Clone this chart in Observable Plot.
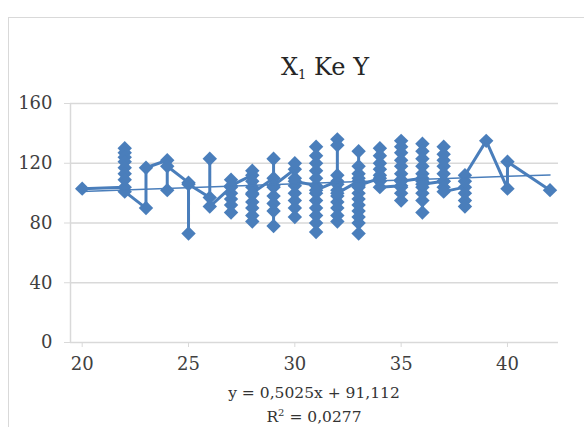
<!DOCTYPE html>
<html>
<head>
<meta charset="utf-8">
<script src="https://cdn.jsdelivr.net/npm/d3@7"></script>
<script src="https://cdn.jsdelivr.net/npm/@observablehq/plot@0.6"></script>
<style>
  html, body { margin: 0; padding: 0; background: #fff; overflow: hidden; }
  #wrap { position: relative; width: 584px; height: 427px; background: #fff; font-family: "DejaVu Serif", serif; }
  #border { position: absolute; left: 8px; top: 17px; width: 640px; height: 520px; border: 1.5px solid #d9d9d9; box-sizing: border-box; }
  #chart { position: absolute; left: 0; top: 0; }
  #title { position: absolute; top: 55px; left: 325px; transform: translateX(-50%); font-size: 24px; line-height: 24px; color: #262626; white-space: nowrap; }
  #title sub { font-size: 13px; vertical-align: -4px; line-height: 0; }
  #eq { position: absolute; top: 381px; left: 314px; transform: translateX(-50%); font-size: 15.5px; line-height: 24px; color: #333; text-align: center; white-space: nowrap; }
  #eq sup { font-size: 10px; vertical-align: 6px; line-height: 0; }
</style>
</head>
<body>
<div id="wrap">
  <div id="border"></div>
  <div id="chart"></div>
  <div id="title">X<sub>1</sub> Ke Y</div>
  <div id="eq">y = 0,5025x + 91,112<br>R<sup>2</sup> = 0,0277</div>
</div>
<script>
// Data, in the order the series line connects them
const ages = [
  20,
  22, 22, 22, 22, 22, 22, 22, 22, 22,
  23, 23,
  24, 24, 24,
  25, 25, 25,
  26, 26, 26,
  27, 27, 27, 27, 27, 27, 27,
  28, 28, 28, 28, 28, 28, 28, 28, 28, 28,
  29, 29, 29, 29, 29, 29, 29, 29,
  30, 30, 30, 30, 30, 30, 30, 30, 30,
  31, 31, 31, 31, 31, 31, 31, 31, 31, 31, 31, 31, 31,
  32, 32, 32, 32, 32, 32, 32, 32, 32, 32, 32, 32,
  33, 33, 33, 33, 33, 33, 33, 33, 33, 33, 33, 33, 33, 33,
  34, 34, 34, 34, 34, 34, 34, 34,
  35, 35, 35, 35, 35, 35, 35, 35, 35, 35, 35, 35,
  36, 36, 36, 36, 36, 36, 36, 36, 36, 36, 36, 36,
  37, 37, 37, 37, 37, 37, 37, 37, 37,
  38, 38, 38, 38, 38, 38,
  39,
  40, 40,
  42
];
const scores = [
  103,
  104, 130, 127, 124, 121, 117, 113, 109, 101,
  90, 117,
  122, 102, 118,
  107, 73, 106,
  97, 123, 91,
  104, 109, 100, 96, 92, 87, 105,
  112, 115, 108, 104, 99, 94, 90, 85, 81, 100,
  110, 123, 104, 98, 93, 88, 78, 105,
  116, 120, 110, 105, 100, 95, 90, 84, 108,
  105, 131, 125, 120, 115, 110, 100, 95, 90, 85, 80, 74, 102,
  108, 136, 132, 112, 106, 102, 98, 94, 90, 85, 81, 100,
  108, 128, 118, 113, 110, 104, 100, 96, 92, 88, 84, 80, 73, 105,
  110, 130, 125, 120, 116, 112, 108, 104,
  105, 135, 131, 127, 122, 118, 113, 109, 104, 100, 95, 108,
  110, 133, 128, 123, 118, 113, 108, 104, 100, 95, 87, 106,
  108, 131, 126, 122, 118, 113, 108, 104, 101,
  104, 100, 95, 91, 108, 112,
  135,
  103, 121,
  102
];
const xTicks = [20, 25, 30, 35, 40];
const yTicks = [0, 40, 80, 120, 160];
const trendSlope = 0.5025;
const trendIntercept = 91.112;
const xDomain = [19.45, 42.4];
const yDomain = [0, 160];

const blue = "#4a7ebb";
const data = ages.map((a, i) => ({age: a, score: scores[i]}));
const xExtent = d3.extent(ages);
const trend = xExtent.map(x => ({age: x, score: trendSlope * x + trendIntercept}));

const chart = Plot.plot({
  width: 584,
  height: 427,
  marginLeft: 70,
  marginRight: 26,
  marginTop: 103,
  marginBottom: 85,
  style: {fontFamily: "'DejaVu Serif', serif", fontSize: "18px", background: "transparent", color: "#404040", overflow: "visible"},
  x: {domain: xDomain},
  y: {domain: yDomain},
  marks: [
    Plot.ruleY(yTicks, {stroke: "#d9d9d9", strokeWidth: 1.5}),
    Plot.ruleX([xDomain[0]], {stroke: "#d9d9d9", strokeWidth: 1.5}),
    Plot.axisY({ticks: yTicks, tickSize: 6, tickPadding: 12, stroke: "#d9d9d9", fill: "#404040", label: null, fontSize: 18}),
    Plot.axisX({ticks: xTicks, tickSize: 5, tickPadding: 10, stroke: "#d9d9d9", fill: "#404040", label: null, fontSize: 18}),
    Plot.line(data, {x: "age", y: "score", stroke: blue, strokeWidth: 3, strokeLinejoin: "round"}),
    Plot.dot(data, {x: "age", y: "score", symbol: "diamond2", r: 6.5, fill: blue, stroke: null}),
    Plot.line(trend, {x: "age", y: "score", stroke: blue, strokeWidth: 1.5})
  ]
});
document.getElementById("chart").appendChild(chart);
</script>
</body>
</html>
